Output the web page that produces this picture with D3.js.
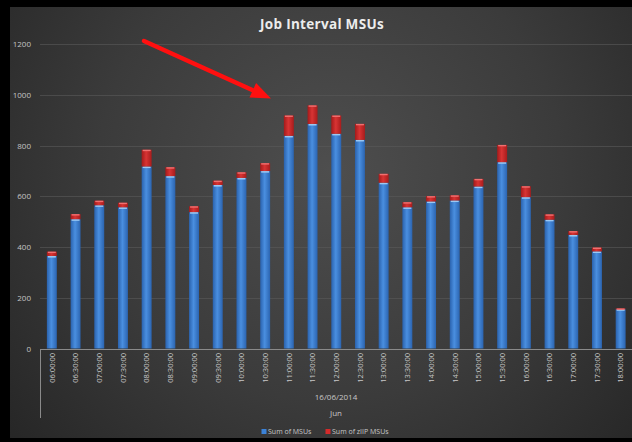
<!DOCTYPE html>
<html><head><meta charset="utf-8">
<script src="https://cdn.jsdelivr.net/npm/d3@7"></script>
<style>html,body{margin:0;padding:0;background:#000;}svg{display:block;}</style>
</head><body>
<script>
const categories = ["06:00:00","06:30:00","07:00:00","07:30:00","08:00:00","08:30:00","09:00:00","09:30:00","10:00:00","10:30:00","11:00:00","11:30:00","12:00:00","12:30:00","13:00:00","13:30:00","14:00:00","14:30:00","15:00:00","15:30:00","16:00:00","16:30:00","17:00:00","17:30:00","18:00:00"];
const msus = [365,510,565,557,718,680,538,645,673,700,839,886,847,823,654,557,580,584,639,735,597,508,448,383,155];
const ziip = [17,20,18,18,66,35,23,17,22,31,80,73,72,63,35,20,21,20,30,68,43,21,15,15,3];
const yTicks = [0,200,400,600,800,1000,1200];
const seriesNames = ["Sum of MSUs","Sum of zIIP MSUs"];
const title = "Job Interval MSUs";
const dateLabel = "16/06/2014";
const monthLabel = "Jun";

const W = 632, H = 442;
const svg = d3.select("body").append("svg").attr("width", W).attr("height", H);
const defs = svg.append("defs");

const bg = defs.append("radialGradient").attr("id","bg").attr("gradientUnits","userSpaceOnUse")
  .attr("cx",330).attr("cy",170).attr("r",420);
bg.append("stop").attr("offset","0%").attr("stop-color","#4e4e4e");
bg.append("stop").attr("offset","55%").attr("stop-color","#3b3b3b");
bg.append("stop").attr("offset","100%").attr("stop-color","#262626");

const gBlue = defs.append("linearGradient").attr("id","gBlue").attr("x1","0").attr("x2","1").attr("y1","0").attr("y2","0");
gBlue.append("stop").attr("offset","0%").attr("stop-color","#2a62ad");
gBlue.append("stop").attr("offset","45%").attr("stop-color","#4a8fe0");
gBlue.append("stop").attr("offset","100%").attr("stop-color","#2b64b0");
const gRed = defs.append("linearGradient").attr("id","gRed").attr("x1","0").attr("x2","1").attr("y1","0").attr("y2","0");
gRed.append("stop").attr("offset","0%").attr("stop-color","#a51a1a");
gRed.append("stop").attr("offset","45%").attr("stop-color","#d83434");
gRed.append("stop").attr("offset","100%").attr("stop-color","#a81c1c");

const glow = defs.append("filter").attr("id","glow").attr("x","-20%").attr("y","-20%").attr("width","140%").attr("height","140%");
glow.append("feGaussianBlur").attr("stdDeviation",0.8);

svg.append("rect").attr("x",0).attr("y",0).attr("width",W).attr("height",H).attr("fill","#000");
svg.append("rect").attr("x",10).attr("y",7).attr("width",W-10).attr("height",431).attr("fill","url(#bg)");

const x = d3.scaleBand().domain(categories).range([40, 632.5]).paddingInner(0.58).paddingOuter(0.29);
const y = d3.scaleLinear().domain([0,1200]).range([348.5, 44.3]);

// gridlines
svg.append("g").selectAll("line").data(yTicks.filter(d=>d>0)).join("line")
  .attr("x1",40).attr("x2",W).attr("y1",d=>Math.round(y(d))+0.5).attr("y2",d=>Math.round(y(d))+0.5)
  .attr("stroke","#5a5a5a").attr("stroke-width",1).attr("opacity",0.6);

// y axis labels
const yAxis = d3.axisLeft(y).tickValues(yTicks).tickSize(0).tickPadding(0).tickFormat(d3.format("d"));
const ya = svg.append("g").attr("transform","translate(31,0)").call(yAxis);
ya.select(".domain").remove();
ya.selectAll("text").attr("fill","#c4c4c4").attr("font-family","Open Sans, sans-serif").attr("font-size",8);

// bars
const data = categories.map((c,i)=>({c, m: msus[i], z: ziip[i]}));
const bw = x.bandwidth();
const bars = svg.append("g");
bars.selectAll("rect.m").data(data).join("rect").attr("class","m")
  .attr("x",d=>x(d.c)).attr("width",bw)
  .attr("y",d=>y(d.m)).attr("height",d=>y(0)-y(d.m)).attr("fill","url(#gBlue)");
bars.selectAll("rect.mt").data(data).join("rect").attr("class","mt")
  .attr("x",d=>x(d.c)+1).attr("width",bw-2)
  .attr("y",d=>y(d.m)).attr("height",1.6).attr("fill","#9cc8f2");
bars.selectAll("rect.z").data(data).join("rect").attr("class","z")
  .attr("x",d=>x(d.c)).attr("width",bw)
  .attr("y",d=>y(d.m+d.z)).attr("height",d=>y(d.m)-y(d.m+d.z)).attr("fill","url(#gRed)");
bars.selectAll("rect.zt").data(data).join("rect").attr("class","zt")
  .attr("x",d=>x(d.c)+1).attr("width",bw-2)
  .attr("y",d=>y(d.m+d.z)).attr("height",1.4).attr("fill","#f07070");

// x axis
svg.append("line").attr("x1",40).attr("x2",W).attr("y1",349.5).attr("y2",349.5).attr("stroke","#8a8a8a").attr("stroke-width",1);
svg.append("line").attr("x1",40.5).attr("x2",40.5).attr("y1",349).attr("y2",418).attr("stroke","#8a8a8a").attr("stroke-width",1);
const xa = d3.axisBottom(x).tickSize(0).tickPadding(0);
const xg = svg.append("g").attr("transform","translate(0,349)").call(xa);
xg.select(".domain").remove();
xg.selectAll("text").attr("fill","#c8c8c8").attr("font-family","Open Sans, sans-serif").attr("font-size",7.5)
  .attr("text-anchor","end").attr("dy",0).attr("dx",0)
  .attr("transform","translate(2.8,4) rotate(-90)").attr("y",0).attr("x",0);

svg.append("text").attr("x",336).attr("y",399.5).attr("text-anchor","middle").attr("fill","#c8c8c8")
  .attr("font-family","Open Sans, sans-serif").attr("font-size",8).text(dateLabel);
svg.append("text").attr("x",336).attr("y",415.5).attr("text-anchor","middle").attr("fill","#c8c8c8")
  .attr("font-family","Open Sans, sans-serif").attr("font-size",8).text(monthLabel);

// legend
const legend = svg.append("g");
const legX = [264, 328];
const legC = ["#3b82d8","#d42a2a"];
seriesNames.forEach((n,i)=>{
  legend.append("rect").attr("x",legX[i]-2.5).attr("y",429).attr("width",5).attr("height",5).attr("fill",legC[i]);
  legend.append("text").attr("x",legX[i]+4).attr("y",434).attr("fill","#c8c8c8")
    .attr("font-family","Open Sans, sans-serif").attr("font-size",7).text(n);
});

// title
svg.append("text").attr("x",322).attr("y",28.5).attr("text-anchor","middle").attr("fill","#ececec")
  .attr("font-family","Open Sans, sans-serif").attr("font-weight","bold").attr("font-size",13.5)
  .attr("letter-spacing",0.3).text(title);

// arrow annotation
const ax1 = 144, ay1 = 41, ax2 = 271, ay2 = 98.5;
const ang = Math.atan2(ay2-ay1, ax2-ax1);
const headL = 20, headW = 8;
const bx = ax2 - headL*Math.cos(ang), by = ay2 - headL*Math.sin(ang);
const arrow = svg.append("g");
arrow.append("line").attr("x1",ax1).attr("y1",ay1).attr("x2",bx).attr("y2",by)
  .attr("stroke","#ff1010").attr("stroke-width",4.5).attr("stroke-linecap","round");
arrow.append("path").attr("d",`M${ax2},${ay2} L${bx + headW*Math.sin(ang)},${by - headW*Math.cos(ang)} L${bx - headW*Math.sin(ang)},${by + headW*Math.cos(ang)} Z`)
  .attr("fill","#ff1010");
</script>
</body></html>
